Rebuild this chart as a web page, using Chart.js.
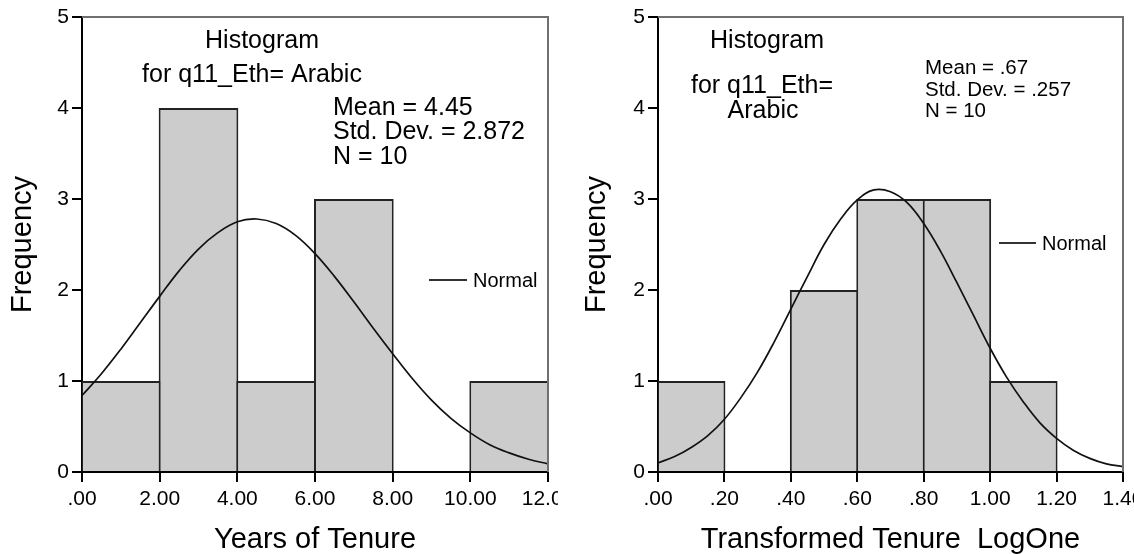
<!DOCTYPE html>
<html>
<head>
<meta charset="utf-8">
<script src="https://cdn.jsdelivr.net/npm/chart.js@4.4.1/dist/chart.umd.min.js"></script>
<style>
  html, body { margin: 0; padding: 0; background: #fff; }
  .panel { position: absolute; top: 0; height: 554px; }
  #left { left: 0; width: 558px; }
  #right { left: 574px; width: 560px; }
</style>
</head>
<body>
<div class="panel" id="left"><canvas id="chartLeft"></canvas></div>
<div class="panel" id="right"><canvas id="chartRight"></canvas></div>
<script>
// --- left histogram : Years of Tenure ---
const tenureBins = [1, 3, 5, 7, 9, 11]; // bin centres, width 2
const tenureCounts = [1, 4, 1, 3, 0, 1];
const tenureTicks = ['.00', '2.00', '4.00', '6.00', '8.00', '10.00', '12.00'];
const tenureCurveX = [0, 0.5, 1, 1.5, 2, 2.5, 3, 3.5, 4, 4.5, 5, 5.5, 6, 6.5, 7, 7.5, 8, 8.5, 9, 9.5, 10, 10.5, 11, 11.5, 12];
const tenureCurveY = [0.84, 1.08, 1.35, 1.64, 1.93, 2.21, 2.45, 2.63, 2.75, 2.78, 2.73, 2.60, 2.40, 2.15, 1.87, 1.58, 1.30, 1.03, 0.79, 0.59, 0.43, 0.30, 0.21, 0.14, 0.09];

// --- right histogram : Transformed Tenure LogOne ---
const logBins = [0.1, 0.3, 0.5, 0.7, 0.9, 1.1, 1.3]; // bin centres, width .2
const logCounts = [1, 0, 2, 3, 3, 1, 0];
const logTicks = ['.00', '.20', '.40', '.60', '.80', '1.00', '1.20', '1.40'];
const logCurveX = [0, 0.05, 0.1, 0.15, 0.2, 0.25, 0.3, 0.35, 0.4, 0.45, 0.5, 0.55, 0.6, 0.65, 0.7, 0.75, 0.8, 0.85, 0.9, 0.95, 1, 1.05, 1.1, 1.15, 1.2, 1.25, 1.3, 1.35, 1.4];
const logCurveY = [0.10, 0.17, 0.27, 0.40, 0.58, 0.82, 1.10, 1.43, 1.79, 2.15, 2.50, 2.78, 2.99, 3.10, 3.08, 2.96, 2.73, 2.43, 2.08, 1.72, 1.36, 1.04, 0.77, 0.54, 0.37, 0.24, 0.15, 0.09, 0.06];

const freqTicks = ['0', '1', '2', '3', '4', '5'];

const FONT = "'Liberation Sans', Arial, sans-serif";

// grey frame on top and right, plus the text boxes and the "Normal" key
const notesPlugin = {
  id: 'notes',
  afterDraw(chart, args, opts) {
    const ctx = chart.ctx;
    const a = chart.chartArea;
    ctx.save();
    ctx.strokeStyle = '#707070';
    ctx.lineWidth = 2;
    ctx.beginPath();
    ctx.moveTo(a.left, a.top);
    ctx.lineTo(a.right, a.top);
    ctx.lineTo(a.right, a.bottom);
    ctx.stroke();

    ctx.fillStyle = '#000';
    ctx.textBaseline = 'alphabetic';
    opts.texts.forEach(t => {
      ctx.font = t.size + 'px ' + FONT;
      ctx.textAlign = t.align || 'left';
      ctx.fillText(t.text, t.x, t.y);
    });

    const k = opts.key;
    ctx.strokeStyle = '#333';
    ctx.lineWidth = 2;
    ctx.beginPath();
    ctx.moveTo(k.x1, k.y);
    ctx.lineTo(k.x2, k.y);
    ctx.stroke();
    ctx.font = '20px ' + FONT;
    ctx.textAlign = 'left';
    ctx.textBaseline = 'middle';
    ctx.fillText('Normal', k.x2 + 6, k.y + 1);
    ctx.restore();
  }
};

function makeHistogram(canvasId, bins, counts, curveX, curveY, xMax, step, xTicks, xTitle, axisLeft, padRight, barPct, notes) {
  return new Chart(document.getElementById(canvasId), {
    type: 'bar',
    data: {
      datasets: [{
        type: 'line',
        data: curveX.map((x, i) => ({ x: x, y: curveY[i] })),
        borderColor: '#111',
        borderWidth: 1.7,
        pointRadius: 0,
        tension: 0.4,
        fill: false,
        order: 0
      }, {
        data: bins.map((x, i) => ({ x: x, y: counts[i] })),
        backgroundColor: '#cccccc',
        borderColor: '#222',
        borderWidth: 2,
        borderSkipped: 'start',
        barPercentage: barPct,   // a hair over 1 so neighbouring borders overlap
        categoryPercentage: 1,
        order: 1
      }]
    },
    options: {
      responsive: true,
      maintainAspectRatio: false,
      animation: false,
      layout: { padding: { top: 17, right: padRight, bottom: 0, left: 0 } },
      plugins: {
        legend: { display: false },
        tooltip: { enabled: false },
        notes: notes
      },
      scales: {
        x: {
          type: 'linear',
          min: 0,
          max: xMax,
          offset: false,
          afterFit: s => { s.height = 82; s.paddingLeft = 0; s.paddingRight = 0; },
          afterBuildTicks: s => { s.ticks = xTicks.map((l, i) => ({ value: i * step })); },
          ticks: {
            autoSkip: false,
            maxRotation: 0,
            color: '#000',
            font: { family: FONT, size: 21 },
            padding: 5,
            callback: (v, i) => xTicks[i]
          },
          grid: { offset: false, drawOnChartArea: false, tickLength: 10, color: '#000', lineWidth: 2 },
          border: { display: true, color: '#000', width: 2 },
          title: { display: true, text: xTitle, color: '#000', font: { family: FONT, size: 29 }, padding: { top: 0, bottom: -3 } }
        },
        y: {
          min: 0,
          max: 5,
          afterFit: s => { s.width = axisLeft; },
          ticks: {
            stepSize: 1,
            color: '#000',
            font: { family: FONT, size: 21 },
            padding: 3,
            callback: (v, i) => freqTicks[i]
          },
          grid: { drawOnChartArea: false, tickLength: 10, color: '#000', lineWidth: 2 },
          border: { display: true, color: '#000', width: 2 },
          title: { display: true, text: 'Frequency', color: '#000', font: { family: FONT, size: 29 }, padding: { top: 6, bottom: 0 } }
        }
      }
    },
    plugins: [notesPlugin]
  });
}

makeHistogram('chartLeft', tenureBins, tenureCounts, tenureCurveX, tenureCurveY, 12, 2, tenureTicks,
  'Years of Tenure', 82, 10, 1.026, {
    texts: [
      { text: 'Histogram', x: 262, y: 48, size: 25, align: 'center' },
      { text: 'for q11_Eth= Arabic', x: 252, y: 82, size: 25, align: 'center' },
      { text: 'Mean = 4.45', x: 333, y: 115, size: 25 },
      { text: 'Std. Dev. = 2.872', x: 333, y: 139, size: 25 },
      { text: 'N = 10', x: 333, y: 164, size: 25 }
    ],
    key: { x1: 429, x2: 467, y: 280 }
  });

makeHistogram('chartRight', logBins, logCounts, logCurveX, logCurveY, 1.4, 0.2, logTicks,
  'Transformed Tenure  LogOne', 84, 11, 1.03, {
    texts: [
      { text: 'Histogram', x: 193, y: 48, size: 25, align: 'center' },
      { text: 'for q11_Eth=', x: 188, y: 93, size: 25, align: 'center' },
      { text: 'Arabic', x: 189, y: 118, size: 25, align: 'center' },
      { text: 'Mean = .67', x: 351, y: 74, size: 20.5 },
      { text: 'Std. Dev. = .257', x: 351, y: 96, size: 20.5 },
      { text: 'N = 10', x: 351, y: 117, size: 20.5 }
    ],
    key: { x1: 425, x2: 462, y: 243 }
  });
</script>
</body>
</html>
